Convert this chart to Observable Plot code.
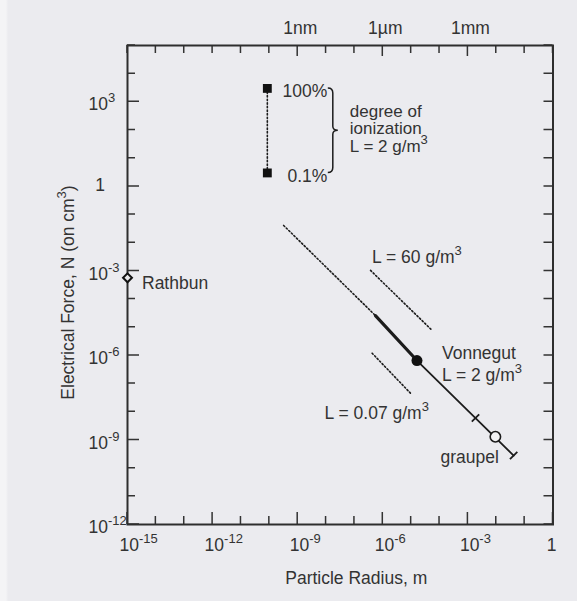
<!DOCTYPE html>
<html><head><meta charset="utf-8">
<script src="https://cdn.jsdelivr.net/npm/d3@7"></script>
<script src="https://cdn.jsdelivr.net/npm/@observablehq/plot@0.6"></script>
<style>
html,body{margin:0;padding:0;background:#ebebef;}
</style></head><body><div id="chart"></div>
<script>
// ---- axis ticks and labels ----
const xDecades = [1e-15,1e-14,1e-13,1e-12,1e-11,1e-10,1e-9,1e-8,1e-7,1e-6,1e-5,1e-4,1e-3,1e-2,1e-1,1];
const yDecades = [1e-12,1e-11,1e-10,1e-9,1e-8,1e-7,1e-6,1e-5,1e-4,1e-3,1e-2,1e-1,1,1e1,1e2,1e3,1e4,1e5];
const xTicks = [1e-15, 1e-12, 1e-9, 1e-6, 1e-3, 1];
const xTickLabels = ["10^-15", "10^-12", "10^-9", "10^-6", "10^-3", "1"];
const yTicks = [1e-12, 1e-9, 1e-6, 1e-3, 1, 1e3];
const yTickLabels = ["10^-12", "10^-9", "10^-6", "10^-3", "1", "10^3"];
const sizeTicks = [1e-9, 1e-6, 1e-3];
const sizeLabels = ["1nm", "1\u00b5m", "1mm"];

// ---- series ----
const ionRadius = [8.5e-11, 8.5e-11];
const ionForce = [3e3, 3];
const ionLabels = ["100%", "0.1%"];

const rathbunRadius = [1e-15];
const rathbunForce = [5.7e-4];

const dottedRadius = [3.2e-10, 5.5e-7];
const dottedForce = [4.1e-2, 2.6e-5];
const thickRadius = [5.5e-7, 1.6e-5];
const thickForce = [2.6e-5, 6.6e-7];
const thinRadius = [1.6e-5, 4.1e-2];
const thinForce = [6.6e-7, 2.8e-10];

const vonnegutRadius = [1.6e-5];
const vonnegutForce = [6.6e-7];
const graupelRadius = [9.3e-3];
const graupelForce = [1.3e-9];
const barRadius = [1.85e-3, 4.1e-2];
const barForce = [6.0e-9, 2.8e-10];

const l60Radius = [3.7e-7, 5.5e-5];
const l60Force = [1.04e-3, 7.7e-6];
const l007Radius = [4.2e-7, 9.4e-6];
const l007Force = [1.2e-6, 4.6e-8];

const pts = (xs, ys) => xs.map((x, i) => ({x, y: ys[i]}));
const FS = 17.5;
const INK = "#1c1c1c";
const TXT = "#333";
const braceRadius = 1.8e-8;
const k = Math.pow(10, 0.13);
const NS = "http://www.w3.org/2000/svg";

function brace(index, {x, y}) {
  const xb = x(braceRadius), yt = y(ionForce[0]), yb = y(ionForce[1]);
  const ym = (yt + yb) / 2;
  const d = `M${xb-5},${yt} Q${xb},${yt} ${xb},${yt+5} L${xb},${ym-4} Q${xb},${ym} ${xb+5},${ym} Q${xb},${ym} ${xb},${ym+4} L${xb},${yb-5} Q${xb},${yb} ${xb-5},${yb}`;
  const p = document.createElementNS(NS, "path");
  p.setAttribute("d", d);
  p.setAttribute("fill", "none");
  p.setAttribute("stroke", INK);
  p.setAttribute("stroke-width", 1.5);
  return p;
}

// inward tick marks on all four sides, placed with the plot's scales
function frameTicks(index, {x, y}, values, dims) {
  const {width, height, marginLeft, marginRight, marginTop, marginBottom} = dims;
  const x0 = marginLeft, x1 = width - marginRight, y0 = marginTop, y1 = height - marginBottom;
  let d = "";
  for (const v of xDecades) {
    const px = x(v);
    d += `M${px},${y1}v${-(xTicks.includes(v) ? 12 : 8)}`;
    d += `M${px},${y0}v${sizeTicks.includes(v) ? 11 : 8}`;
  }
  for (const v of yDecades) {
    const py = y(v);
    d += `M${x0},${py}h${yTicks.includes(v) ? 12 : 8}`;
    d += `M${x1},${py}h-9`;
  }
  const p = document.createElementNS(NS, "path");
  p.setAttribute("d", d);
  p.setAttribute("fill", "none");
  p.setAttribute("stroke", TXT);
  p.setAttribute("stroke-width", 1.5);
  return p;
}

const dash = "1.4,2.2";
const T = {fontSize: FS, fill: TXT, lineAnchor: "middle"};

const chart = Plot.plot({
  width: 577,
  height: 601,
  marginLeft: 127,
  marginRight: 24.5,
  marginTop: 45,
  marginBottom: 77,
  x: {type: "log", domain: [1e-15, 1], axis: null},
  y: {type: "log", domain: [1e-12, 1e5], axis: null},
  style: {
    background: "linear-gradient(to right, #f4f4f6 0px, #f4f4f6 6px, #ebebef 8px)",
    fontFamily: "'Liberation Sans', Arial, sans-serif",
    color: TXT,
    overflow: "visible"
  },
  marks: [
    frameTicks,
    Plot.frame({stroke: "#2e2e2e", strokeWidth: 2}),

    // tick labels
    Plot.text(xTicks.slice(0, 5), {...T, x: d => d, text: (d, i) => xTickLabels[i], frameAnchor: "bottom", dy: 21, dx: -8, textAnchor: "start"}),
    Plot.text(xTicks.slice(5), {...T, x: d => d, text: (d, i) => xTickLabels[5 + i], frameAnchor: "bottom", dy: 21, dx: -1.5, textAnchor: "middle"}),
    Plot.text(yTicks.filter((d, i) => yTickLabels[i] !== "1"), {...T, y: d => d, text: d => yTickLabels[yTicks.indexOf(d)], frameAnchor: "left", dx: -39, dy: 3, textAnchor: "start"}),
    Plot.text(yTicks.filter((d, i) => yTickLabels[i] === "1"), {...T, y: d => d, text: d => yTickLabels[yTicks.indexOf(d)], frameAnchor: "left", dx: -27.5, dy: -1, textAnchor: "middle"}),
    Plot.text(sizeTicks, {...T, x: d => d, text: (d, i) => sizeLabels[i], frameAnchor: "top", dy: -17, dx: 2.5, textAnchor: "middle"}),

    // axis titles
    Plot.text(["Particle Radius, m"], {...T, text: d => d, frameAnchor: "bottom", dy: 54, dx: 16, textAnchor: "middle"}),
    Plot.text(["Electrical Force, N (on cm^3)"], {...T, text: d => d, frameAnchor: "left", rotate: -90, dx: -59, dy: 7.5, textAnchor: "middle"}),

    // degree of ionization
    Plot.line(pts(ionRadius, ionForce), {x: "x", y: "y", stroke: INK, strokeWidth: 1.6, strokeDasharray: dash}),
    Plot.dot(pts(ionRadius, ionForce), {x: "x", y: "y", symbol: "square", r: 5, fill: "#111", stroke: null}),
    Plot.text(pts(ionRadius, ionForce), {...T, x: "x", y: "y", text: (d, i) => ionLabels[i], textAnchor: "end", dx: 60, dy: 3}),
    brace,
    Plot.text([0], {...T, fontSize: 17, x: () => ionRadius[0], y: () => Math.sqrt(ionForce[0] * ionForce[1]), text: () => "degree of\nionization\nL = 2 g/m^3", textAnchor: "start", dx: 82.5, dy: -2, lineHeight: 1.05}),

    // Rathbun
    Plot.dot(pts(rathbunRadius, rathbunForce), {x: "x", y: "y", symbol: "diamond2", r: 4, fill: "#e8e8ea", stroke: "#111", strokeWidth: 2}),
    Plot.text(pts(rathbunRadius, rathbunForce), {...T, x: "x", y: "y", text: () => "Rathbun", textAnchor: "start", dx: 14.5, dy: 5.5}),

    // main relation
    Plot.line(pts(dottedRadius, dottedForce), {x: "x", y: "y", stroke: INK, strokeWidth: 1.6, strokeDasharray: dash}),
    Plot.line(pts(thickRadius, thickForce), {x: "x", y: "y", stroke: INK, strokeWidth: 3.2}),
    Plot.line(pts(thinRadius, thinForce), {x: "x", y: "y", stroke: INK, strokeWidth: 1.8}),
    Plot.link(barRadius.map((r, i) => i), {x1: i => barRadius[i] * k, y1: i => barForce[i] * k, x2: i => barRadius[i] / k, y2: i => barForce[i] / k, stroke: INK, strokeWidth: 1.8}),
    Plot.dot(pts(vonnegutRadius, vonnegutForce), {x: "x", y: "y", r: 5.5, fill: "#111", stroke: null}),
    Plot.dot(pts(graupelRadius, graupelForce), {x: "x", y: "y", r: 5.2, fill: "#f2f2f4", stroke: INK, strokeWidth: 1.6}),
    Plot.text(pts(vonnegutRadius, vonnegutForce), {...T, x: "x", y: "y", text: () => "Vonnegut\nL = 2 g/m^3", textAnchor: "start", dx: 25, dy: 2.5, lineHeight: 1.24}),
    Plot.text(pts(graupelRadius, graupelForce), {...T, x: "x", y: "y", text: () => "graupel", textAnchor: "end", dx: 3.5, dy: 21}),

    // L = 60 and L = 0.07
    Plot.line(pts(l60Radius, l60Force), {x: "x", y: "y", stroke: INK, strokeWidth: 1.6, strokeDasharray: dash}),
    Plot.line(pts(l007Radius, l007Force), {x: "x", y: "y", stroke: INK, strokeWidth: 1.6, strokeDasharray: dash}),
    Plot.text(pts(l60Radius, l60Force).slice(0, 1), {...T, x: "x", y: "y", text: () => "L = 60 g/m^3", textAnchor: "start", dx: 1.5, dy: -13}),
    Plot.text(pts(l007Radius, l007Force).slice(1), {...T, x: "x", y: "y", text: () => "L = 0.07 g/m^3", textAnchor: "end", dx: 18.5, dy: 20.5})
  ]
});

// turn "^" markup into superscript tspans
function superscripts(svg) {
  svg.querySelectorAll("text, tspan").forEach(node => {
    if (node.childNodes.length !== 1 || node.firstChild.nodeType !== 3) return;
    const s = node.textContent;
    const m = s.match(/^(.*)\^(-?\d+)(.*)$/);
    if (!m) return;
    node.textContent = "";
    const a = document.createElementNS(NS, "tspan"); a.textContent = m[1];
    const b = document.createElementNS(NS, "tspan"); b.textContent = m[2];
    b.setAttribute("dy", "-8"); b.setAttribute("font-size", "13");
    node.append(a, b);
    if (m[3]) {
      const c = document.createElementNS(NS, "tspan"); c.textContent = m[3];
      c.setAttribute("dy", "8");
      node.append(c);
    }
  });
}
superscripts(chart);
document.getElementById("chart").append(chart);
</script>
</body></html>
